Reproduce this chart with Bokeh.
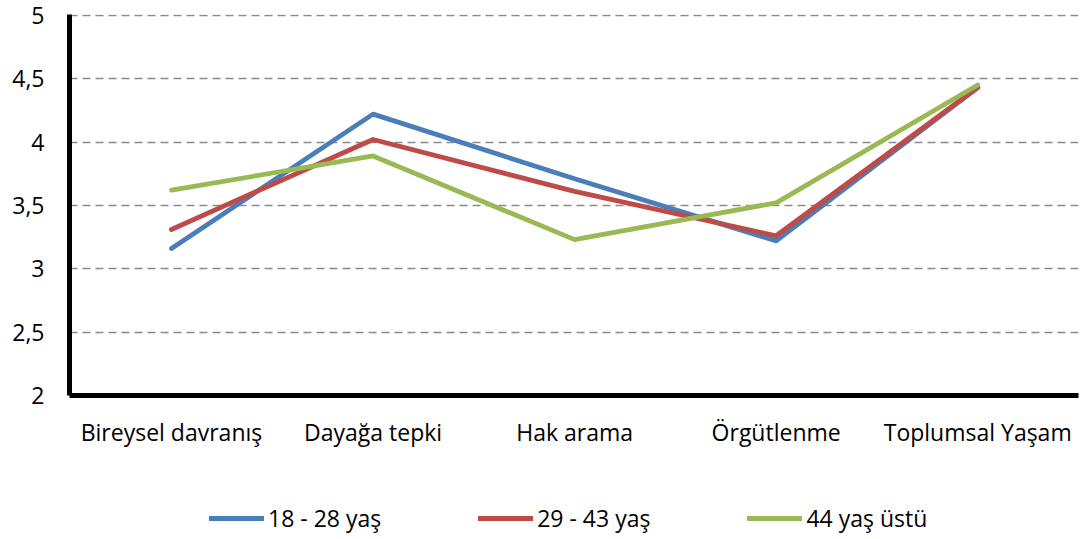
from bokeh.plotting import figure
from bokeh.models import Legend, LegendItem, FixedTicker, Range1d
from bokeh.layouts import column
from bokeh.embed import file_html
from bokeh.resources import INLINE

categories = ["Bireysel davranış", "Dayağa tepki", "Hak arama", "Örgütlenme", "Toplumsal Yaşam"]
series_names = ["18 - 28 yaş", "29 - 43 yaş", "44 yaş üstü"]
vals_18_28 = [3.16, 4.22, 3.71, 3.22, 4.43]
vals_29_43 = [3.31, 4.02, 3.61, 3.26, 4.43]
vals_44_up = [3.62, 3.89, 3.23, 3.52, 4.45]
y_ticks = [2, 2.5, 3, 3.5, 4, 4.5, 5]
y_tick_labels = ["2", "2,5", "3", "3,5", "4", "4,5", "5"]
colors = ["#4A7EBB", "#BE4B48", "#98B954"]

FONT = "Open Sans"
FS = "23px"
LW = 4.8

xs = list(range(len(categories)))
series = [vals_18_28, vals_29_43, vals_44_up]

p = figure(width=1081, height=483, output_backend="svg", toolbar_location=None,
           x_range=Range1d(-0.506, 4.5), y_range=Range1d(2, 5.006))
p.min_border_left = 69
p.min_border_right = 3
p.min_border_top = 14
p.min_border_bottom = 88
p.outline_line_color = None
p.background_fill_color = "white"
p.border_fill_color = "white"

for name, vals, c in zip(series_names, series, colors):
    p.line(xs, vals, line_color=c, line_width=LW, line_cap="round", line_join="round")

# grid
p.xgrid.grid_line_color = None
p.ygrid.ticker = FixedTicker(ticks=y_ticks)
p.ygrid.grid_line_color = "#8a8a8a"
p.ygrid.grid_line_width = 1.5
p.ygrid.grid_line_dash = "8 5"

# y axis
p.yaxis.ticker = FixedTicker(ticks=y_ticks)
p.yaxis.major_label_overrides = {t: l for t, l in zip(y_ticks, y_tick_labels)}
p.yaxis.axis_line_width = 5
p.yaxis.axis_line_color = "black"
p.yaxis.major_tick_line_color = None
p.yaxis.minor_tick_line_color = None
p.yaxis.major_label_text_font = FONT
p.yaxis.major_label_text_font_size = FS
p.yaxis.major_label_text_color = "black"
p.yaxis.major_label_standoff = 19

# x axis
p.xaxis.ticker = FixedTicker(ticks=xs)
p.xaxis.major_label_overrides = {i: c for i, c in zip(xs, categories)}
p.xaxis.axis_line_width = 5
p.xaxis.axis_line_color = "black"
p.xaxis.major_tick_line_color = None
p.xaxis.minor_tick_line_color = None
p.xaxis.major_label_text_font = FONT
p.xaxis.major_label_text_font_size = FS
p.xaxis.major_label_text_color = "black"
p.xaxis.major_label_standoff = 14

# legend strip below the chart (series drawn outside its visible range, only swatches show)
pl = figure(width=1081, height=56, output_backend="svg", toolbar_location=None,
            x_range=Range1d(0, 1), y_range=Range1d(-10, -9),
            x_axis_location=None, y_axis_location=None)
pl.min_border = 0
pl.min_border_left = 0
pl.min_border_right = 0
pl.min_border_top = 0
pl.min_border_bottom = 0
pl.outline_line_color = None
pl.background_fill_color = "white"
pl.border_fill_color = "white"
pl.xgrid.grid_line_color = None
pl.ygrid.grid_line_color = None
leg_renderers = [pl.line(xs, vals, line_color=c, line_width=LW, line_cap="round")
                 for vals, c in zip(series, colors)]

legend = Legend(items=[LegendItem(label=n, renderers=[r]) for n, r in zip(series_names, leg_renderers)],
                orientation="horizontal", location=(140, 5))
legend.glyph_width = 55
legend.glyph_height = 20
legend.label_standoff = 4
legend.spacing = 97
legend.padding = 0
legend.margin = 0
legend.border_line_color = None
legend.background_fill_alpha = 0
legend.label_text_font = FONT
legend.label_text_font_size = FS
legend.label_text_color = "black"
pl.add_layout(legend, "center")

layout = column(p, pl, spacing=0)
open("out.html", "w").write(file_html(layout, INLINE))
